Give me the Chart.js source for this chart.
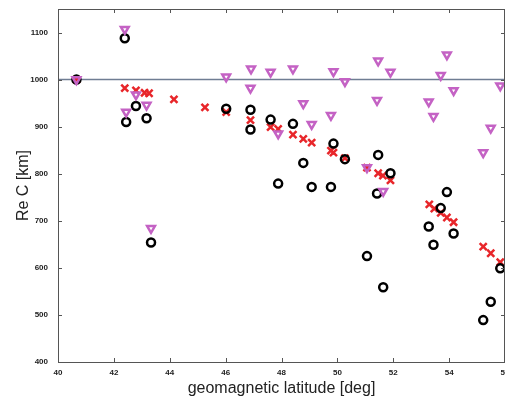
<!DOCTYPE html>
<html>
<head>
<meta charset="utf-8">
<script src="https://cdn.jsdelivr.net/npm/chart.js@4/dist/chart.umd.min.js"></script>
<style>
    html, body { margin: 0; padding: 0; background: #fff; }
    #wrap { width: 505px; height: 401px; }
</style>
</head>
<body>
<div id="wrap"><canvas id="graphique"></canvas></div>
<script>
// latitude of each station (deg) and Re C values (km)
const latCercles = [40.66, 42.39, 42.44, 42.79, 43.17, 43.33, 46.02, 46.89, 46.89, 47.61, 47.88, 48.41, 48.78, 49.08, 49.77,
    49.86, 50.27, 51.06, 51.46, 51.42, 51.64, 51.90, 53.27, 53.44, 53.70, 53.92, 54.16, 55.83, 55.49, 55.22];
const valCercles = [1000, 1088, 910, 944, 918, 654, 938, 936, 894, 915, 779, 906, 823, 772, 772,
    864, 831, 625, 840, 758, 559, 801, 688, 649, 727, 761, 673, 599, 528, 489];

const latTriangles = [40.66, 42.39, 42.44, 42.79, 43.17, 43.33, 46.02, 46.91, 46.89, 47.61, 47.88, 48.41, 48.78, 49.08, 49.77,
    49.86, 50.27, 51.06, 51.46, 51.42, 51.64, 51.90, 53.27, 53.44, 53.70, 53.92, 54.16, 55.83, 55.49, 55.22];
const valTriangles = [1000, 1107, 931, 968, 946, 684, 1006, 1023, 982, 1016, 885, 1023, 949, 905, 924,
    1017, 996, 813, 1040, 956, 763, 1016, 953, 922, 1009, 1053, 977, 987, 897, 845];

const latCroix = [40.66, 42.39, 42.79, 43.10, 43.26, 44.15, 45.26, 46.02, 46.89, 47.61, 47.88, 48.41, 48.78, 49.08, 49.77,
    49.86, 50.27, 51.06, 51.46, 51.63, 51.90, 53.29, 53.47, 53.70, 53.92, 54.16, 55.22, 55.49, 55.83];
const valCroix = [1000, 982, 977, 972, 971, 958, 941, 931, 914, 899, 895, 883, 874, 866, 849,
    845, 833, 813, 801, 796, 786, 735, 726, 717, 707, 697, 645, 631, 612];

// reference line at 1000 km
const latRef = [40, 56];
const valRef = [1000, 1000];

const ticksX = [40, 42, 44, 46, 48, 50, 52, 54, 56];
const ticksY = [400, 500, 600, 700, 800, 900, 1000, 1100];

function points (xs, ys) {
    return xs.map((x, i) => ({ x: x, y: ys[i] }));
}

// cadre + petites graduations intérieures, façon matlab
const cadre = {
    id: "cadre",
    afterDraw (chart) {
        const ctx = chart.ctx;
        const a = chart.chartArea;
        const sx = chart.scales.x;
        const sy = chart.scales.y;
        ctx.save();
        ctx.strokeStyle = "#555";
        ctx.lineWidth = 1;
        ctx.strokeRect(a.left + 0.5, a.top + 0.5, a.right - a.left - 1, a.bottom - a.top);
        ctx.beginPath();
        for (const t of ticksX) {
            const px = Math.round(sx.getPixelForValue(t)) + 0.5;
            ctx.moveTo(px, a.bottom); ctx.lineTo(px, a.bottom - 4);
            ctx.moveTo(px, a.top); ctx.lineTo(px, a.top + 4);
        }
        for (const t of ticksY) {
            const py = Math.round(sy.getPixelForValue(t)) + 0.5;
            ctx.moveTo(a.left, py); ctx.lineTo(a.left + 4, py);
            ctx.moveTo(a.right, py); ctx.lineTo(a.right - 4, py);
        }
        ctx.stroke();
        ctx.restore();
    }
};

const data = {
    datasets: [
        {
            type: "line",
            data: points(latRef, valRef),
            borderColor: "#6f7d93",
            borderWidth: 1.5,
            pointRadius: 0,
            order: 4
        },
        {
            data: points(latCroix, valCroix),
            pointStyle: "crossRot",
            pointRadius: 5,
            borderWidth: 2.5,
            borderColor: "#e8262a",
            order: 3
        },
        {
            data: points(latCercles, valCercles),
            pointStyle: "circle",
            pointRadius: 4,
            borderWidth: 2.5,
            borderColor: "#000",
            backgroundColor: "rgba(0,0,0,0)",
            order: 2
        },
        {
            data: points(latTriangles, valTriangles),
            pointStyle: "triangle",
            rotation: 180,
            pointRadius: 4.5,
            borderWidth: 2.5,
            borderColor: "#c462c4",
            backgroundColor: "rgba(0,0,0,0)",
            order: 1
        }
    ]
};

const petit = { family: "Liberation Sans", size: 8, weight: "bold" };
const grand = { family: "Liberation Sans", size: 16 };

const config = {
    type: "scatter",
    data: data,
    options: {
        responsive: true,
        maintainAspectRatio: false,
        animation: false,
        layout: { autoPadding: false, padding: { top: 9, right: 0, left: 0, bottom: 0 } },
        plugins: {
            legend: { display: false },
            tooltip: { enabled: false }
        },
        scales: {
            x: {
                min: 40,
                max: 56,
                grid: { display: false, drawTicks: false },
                border: { display: false },
                afterBuildTicks (scale) {
                    scale.ticks = ticksX.map(v => ({ value: v }));
                },
                afterFit (scale) {
                    scale.height = 39;
                    scale.paddingLeft = 0;
                    scale.paddingRight = 0;
                },
                ticks: { font: petit, color: "#222", padding: 6, maxRotation: 0, autoSkip: false },
                title: { display: true, text: "geomagnetic latitude [deg]", font: grand, color: "#222", padding: { top: 0, bottom: 3 } }
            },
            y: {
                min: 400,
                max: 1150,
                grid: { display: false, drawTicks: false },
                border: { display: false },
                afterBuildTicks (scale) {
                    scale.ticks = ticksY.map(v => ({ value: v }));
                },
                afterFit (scale) {
                    scale.width = 58;
                    scale.paddingTop = 0;
                    scale.paddingBottom = 0;
                },
                ticks: { font: petit, color: "#222", padding: 10, autoSkip: false, callback: (v) => String(v) },
                title: { display: true, text: "Re C [km]", font: grand, color: "#222", padding: { top: 14, bottom: 0 } }
            }
        }
    },
    plugins: [cadre]
};

new Chart(document.getElementById("graphique"), config);
</script>
</body>
</html>
